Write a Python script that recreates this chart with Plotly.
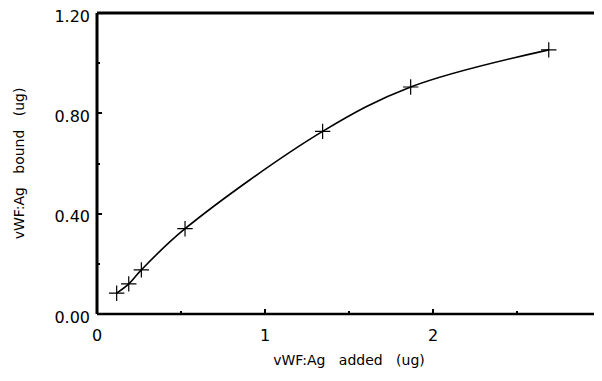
import plotly.graph_objects as go

added = [0.117, 0.189, 0.264, 0.524, 1.343, 1.867, 2.689]
bound = [0.083, 0.120, 0.176, 0.340, 0.728, 0.905, 1.053]
x_ticks = [0, 1, 2, 3]
x_tick_labels = ["0", "1", "2", "3"]
y_ticks = [0.0, 0.4, 0.8, 1.2]
y_tick_labels = ["0.00", "0.40", "0.80", "1.20"]
x_title = "vWF:Ag\u00a0\u00a0 added\u00a0\u00a0 (ug)"
y_title = "vWF:Ag\u00a0\u00a0 bound\u00a0\u00a0 (ug)"

fig = go.Figure()
fig.add_trace(go.Scatter(x=added, y=bound, mode="lines",
                         line=dict(color="black", width=1.6, shape="spline", smoothing=1.0),
                         showlegend=False, hoverinfo="skip"))
fig.add_trace(go.Scatter(x=added, y=bound, mode="markers",
                         marker=dict(symbol="cross-thin", size=11, line=dict(color="black", width=1.2)),
                         showlegend=False))

tick_font = dict(family="DejaVu Sans, sans-serif", size=16, color="black")
title_font = dict(family="DejaVu Sans, sans-serif", size=14, color="black")
# page body has an 8px margin: compensate so the plot lands where the reference has it
fig.update_layout(
    width=602, height=381,
    margin=dict(l=89, r=9, t=5, b=75, autoexpand=False),
    paper_bgcolor="white", plot_bgcolor="white",
    xaxis=dict(range=[0, 3], tickvals=x_ticks, ticktext=x_tick_labels, automargin=False,
               showgrid=False, zeroline=False, showline=False, tickfont=tick_font,
               ticks="inside", ticklen=5, tickwidth=2, ticklabeloverflow="allow",
               tickcolor="black", ticklabelstandoff=10,
               minor=dict(ticks="inside", ticklen=3, tickwidth=2, tickcolor="black", dtick=0.5),
               title=dict(text=x_title, standoff=11, font=title_font)),
    yaxis=dict(range=[0, 1.2], tickvals=y_ticks, ticktext=y_tick_labels, automargin=False,
               showgrid=False, zeroline=False, showline=False, tickfont=tick_font,
               ticks="inside", ticklen=5, tickwidth=2, ticklabeloverflow="allow",
               tickcolor="black", ticklabelstandoff=6, ticklabelshift=3,
               minor=dict(ticks="inside", ticklen=3, tickwidth=2, tickcolor="black", dtick=0.2),
               title=dict(text=y_title, standoff=26, font=title_font)),
)
# frame
fig.add_shape(type="line", xref="paper", yref="paper", x0=0, x1=0, y0=0, y1=1,
              line=dict(color="black", width=3))
fig.add_shape(type="line", xref="paper", yref="paper", x0=0, x1=1, y0=1, y1=1,
              line=dict(color="black", width=3))
fig.add_shape(type="line", xref="paper", yref="paper", x0=0, x1=1, y0=0, y1=0,
              line=dict(color="black", width=2.5))
fig.add_shape(type="line", xref="paper", yref="paper", x0=1, x1=1, y0=0, y1=1,
              line=dict(color="black", width=2))
fig.write_html("out.html")
